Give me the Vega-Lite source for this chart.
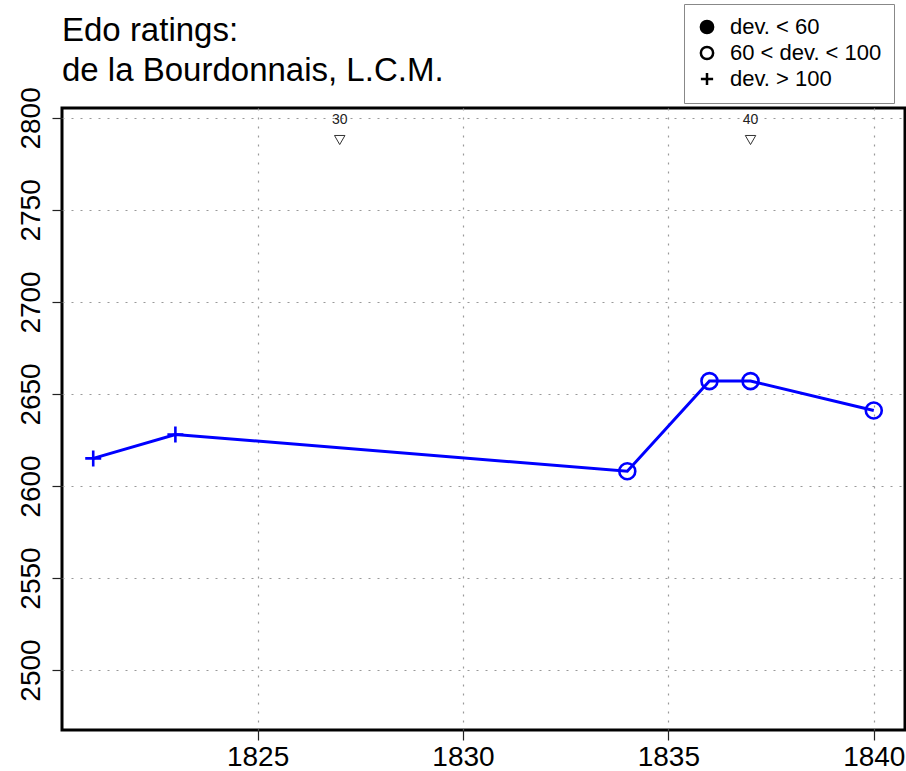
{
  "$schema": "https://vega.github.io/schema/vega-lite/v6.json",
  "autosize": "none",
  "width": 843,
  "height": 622,
  "padding": {"left": 62, "top": 108, "right": 1, "bottom": 41},
  "background": "white",
  "config": {
    "font": "Liberation Sans",
    "view": {"stroke": "black", "strokeWidth": 3},
    "axis": {
      "grid": true, "gridColor": "#999999", "gridDash": [2, 7], "gridWidth": 1.2,
      "domain": false, "tickColor": "#222222", "tickSize": 10, "tickWidth": 1.2,
      "labelFontSize": 28, "labelColor": "black", "title": null
    },
    "legend": {
      "orient": "none", "legendX": 622, "legendY": -104,
      "strokeColor": "#888888", "fillColor": "white", "padding": 12,
      "labelFontSize": 22, "labelColor": "black", "labelOffset": 12,
      "symbolSize": 150, "symbolStrokeWidth": 2.5,
      "rowPadding": 2, "symbolOffset": 0
    }
  },
  "title": {
    "text": ["Edo ratings:", "de la Bourdonnais, L.C.M."],
    "anchor": "start", "frame": "group", "fontSize": 33, "fontWeight": "normal",
    "lineHeight": 40, "offset": 8, "dy": 92, "color": "black"
  },
  "datasets": {
    "ratings": [
      {"year": 1821, "rating": 2615, "dev": "dev. > 100"},
      {"year": 1823, "rating": 2628, "dev": "dev. > 100"},
      {"year": 1834, "rating": 2608, "dev": "60 < dev. < 100"},
      {"year": 1836, "rating": 2657, "dev": "60 < dev. < 100"},
      {"year": 1837, "rating": 2657, "dev": "60 < dev. < 100"},
      {"year": 1840, "rating": 2641, "dev": "60 < dev. < 100"}
    ],
    "ages": [
      {"year": 1827, "rating": 2788, "age": "30"},
      {"year": 1837, "rating": 2788, "age": "40"}
    ]
  },
  "encoding": {
    "x": {"field": "year", "type": "quantitative",
      "scale": {"domain": [1820.24, 1840.76], "nice": false, "zero": false},
      "axis": {"values": [1825, 1830, 1835, 1840], "format": "d", "labelPadding": 3}},
    "y": {"field": "rating", "type": "quantitative",
      "scale": {"domain": [2467.4, 2805.4], "nice": false, "zero": false},
      "axis": {"values": [2500, 2550, 2600, 2650, 2700, 2750, 2800], "format": "d",
        "labelAngle": -90, "labelAlign": "center", "labelBaseline": "bottom", "labelPadding": 7}}
  },
  "layer": [
    {
      "data": {"name": "ratings"},
      "mark": {"type": "point", "stroke": "black", "strokeWidth": 2.5, "size": 0, "opacity": 1},
      "encoding": {
        "shape": {"field": "dev", "type": "nominal",
          "scale": {"domain": ["dev. < 60", "60 < dev. < 100", "dev. > 100"],
            "range": ["circle", "circle", "M-1,0H1M0,-1V1"]},
          "legend": {"title": null}},
        "fill": {"field": "dev", "type": "nominal",
          "scale": {"domain": ["dev. < 60", "60 < dev. < 100", "dev. > 100"],
            "range": ["black", "transparent", "transparent"]},
          "legend": {"title": null}}
      }
    },
    {
      "data": {"name": "ratings"},
      "mark": {"type": "line", "color": "#0000ff", "strokeWidth": 3}
    },
    {
      "data": {"name": "ratings"},
      "mark": {"type": "point", "stroke": "#0000ff", "strokeWidth": 2.6, "size": 256, "opacity": 1},
      "encoding": {
        "shape": {"field": "dev", "type": "nominal", "legend": null},
        "fill": {"field": "dev", "type": "nominal", "legend": null}
      }
    },
    {
      "data": {"name": "ages"},
      "mark": {"type": "point", "shape": "triangle-down", "size": 110, "stroke": "#333333", "strokeWidth": 1, "fill": "transparent", "opacity": 1}
    },
    {
      "data": {"name": "ages"},
      "mark": {"type": "text", "dy": -20, "fontSize": 14, "color": "#222222"},
      "encoding": {"text": {"field": "age"}}
    }
  ]
}
